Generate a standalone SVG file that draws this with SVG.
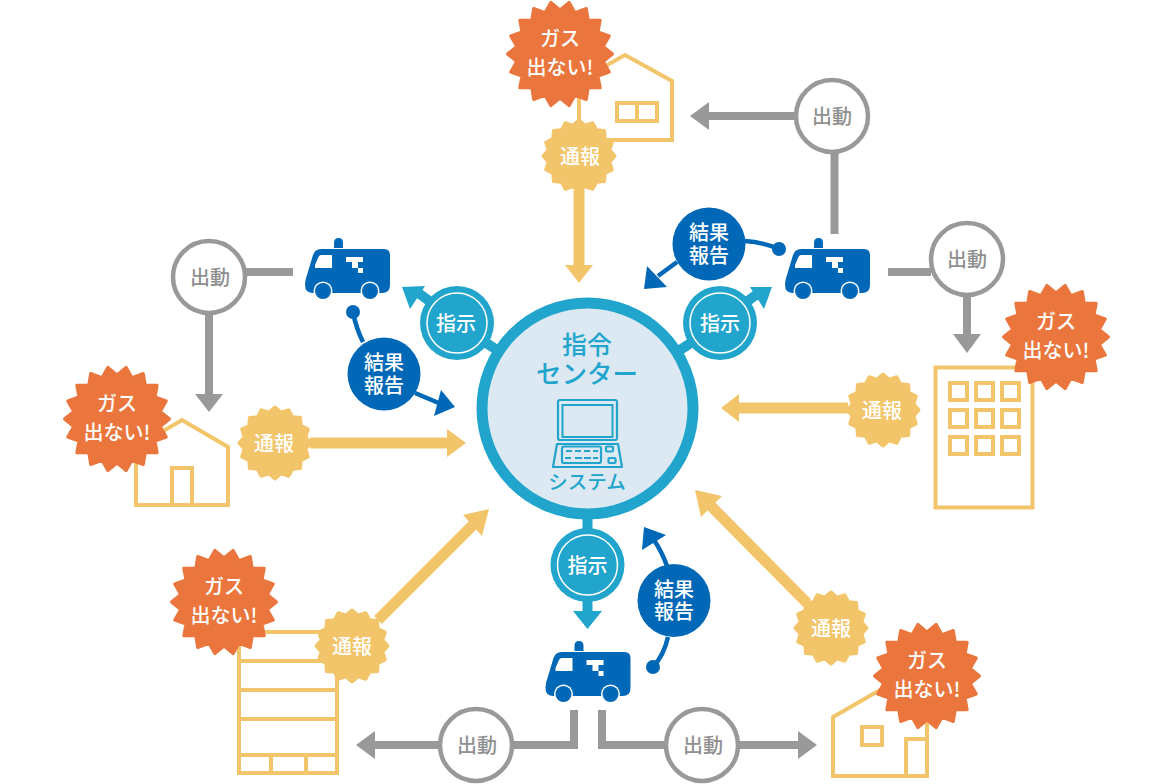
<svg xmlns="http://www.w3.org/2000/svg" width="1172" height="784" viewBox="0 0 1172 784">
<style>
text{font-family:"Noto Sans CJK JP","Noto Sans",sans-serif;text-anchor:middle;font-weight:500;font-size:20px}
.w{fill:#fff}
.g{fill:#8f8f8f}
.c{fill:#21a5cd}
.bo{fill:#ea763d;stroke:#ea763d;stroke-width:3;stroke-linejoin:round}
.by{fill:#f3c56b;stroke:#f3c56b;stroke-width:3;stroke-linejoin:round}
.bld{fill:none;stroke:#f3c56b;stroke-width:4}
.ly{fill:none;stroke:#f3c56b;stroke-width:11}
.hy{fill:#f3c56b}
.lg{fill:none;stroke:#999;stroke-width:8}
.hg{fill:#999}
.lb{fill:none;stroke:#0068b7;stroke-width:4.5}
.hb{fill:#0068b7}
.lc{fill:none;stroke:#21a5cd;stroke-width:10}
.hc{fill:#21a5cd}
.ci{fill:#21a5cd}
.ring{fill:none;stroke:#fff;stroke-width:1.5}
.rep{fill:#0068b7}
.dsp{fill:#fff;stroke:#999;stroke-width:4.5}
.ic{fill:none;stroke:#21a5cd;stroke-width:2.2;stroke-linejoin:round}
</style>
<defs>
<polygon id="bo" class="bo" points="52.5,0 43.3,7.6 49.3,18 38.1,22 40.2,33.7 28.3,33.7 26.3,45.5 15,41.3 9.1,51.7 0,44 -9.1,51.7 -15,41.3 -26.3,45.5 -28.3,33.7 -40.2,33.7 -38.1,22 -49.3,18 -43.3,7.6 -52.5,0 -43.3,-7.6 -49.3,-18 -38.1,-22 -40.2,-33.7 -28.3,-33.7 -26.3,-45.5 -15,-41.3 -9.1,-51.7 0,-44 9.1,-51.7 15,-41.3 26.3,-45.5 28.3,-33.7 40.2,-33.7 38.1,-22 49.3,-18 43.3,-7.6"/>
<polygon id="by" class="by" points="36,0 30.9,6.1 33.3,13.8 26.2,17.5 25.5,25.5 17.5,26.2 13.8,33.3 6.1,30.9 0,36 -6.1,30.9 -13.8,33.3 -17.5,26.2 -25.5,25.5 -26.2,17.5 -33.3,13.8 -30.9,6.1 -36,0 -30.9,-6.1 -33.3,-13.8 -26.2,-17.5 -25.5,-25.5 -17.5,-26.2 -13.8,-33.3 -6.1,-30.9 0,-36 6.1,-30.9 13.8,-33.3 17.5,-26.2 25.5,-25.5 26.2,-17.5 33.3,-13.8 30.9,-6.1"/>
<g id="van">
<path class="hb" d="M29,10V5q0-5 4.500-5t4.500,5V10Z"/>
<path class="hb" d="M16,11H79q6,0 6,6V47q0,8-8,8H8q-8,0-8-8q0-5 2-10L8,17q2-6 8-6Z"/>
<path class="w" d="M16,17H27V30H10V27L13,20q1-3 3-3Z"/>
<path class="w" d="M41,19H58V24H53V30H58V35H53V30H47V24H41Z"/>
<circle cx="18" cy="53" r="9.5" fill="#fff"/><circle cx="18" cy="53" r="8" class="hb"/>
<circle cx="65" cy="53" r="9.5" fill="#fff"/><circle cx="65" cy="53" r="8" class="hb"/>
</g>
</defs>

<g id="connectors">
<path class="ly" d="M579,190V266"/><polygon class="hy" points="565,265 593,265 579,283"/>
<path class="ly" d="M310,443H448"/><polygon class="hy" points="447,429 447,457 466,443"/>
<path class="ly" d="M848,408H738"/><polygon class="hy" points="739,394 739,422 721,408"/>
<path class="ly" d="M378,620L476,522"/><polygon class="hy" points="463,515 489,509 482,536"/>
<path class="ly" d="M807,603L708,503"/><polygon class="hy" points="695,490 722,496 701,517"/>
<path class="lg" d="M834.500,152V234"/>
<path class="lg" d="M795,116H708"/><polygon class="hg" points="709,102 709,130 690,116"/>
<path class="lg" d="M888,272H931"/>
<path class="lg" d="M967,295V336"/><polygon class="hg" points="953,334 981,334 967,353"/>
<path class="lg" d="M246,272H293"/>
<path class="lg" d="M209,313V395"/><polygon class="hg" points="195,394 223,394 209,412"/>
<path class="lg" d="M574,710V745H512"/>
<path class="lg" d="M440,745H374"/><polygon class="hg" points="375,731 375,759 356,745"/>
<path class="lg" d="M602,710V745H666"/>
<path class="lg" d="M738,745H799"/><polygon class="hg" points="798,731 798,759 817,745"/>
<path class="lc" d="M680,350L700,337"/>
<path class="lc" d="M745,303L760,292"/><polygon class="hc" points="772,287 750,287 764,309"/>
<path class="lc" d="M497,350L477,337"/>
<path class="lc" d="M432,303L417,292"/><polygon class="hc" points="402,287 425,286 410,309"/>
<path class="lc" d="M587.500,515V532"/>
<path class="lc" d="M587.500,600V612"/><polygon class="hc" points="573,611 602,611 587.500,629"/>
<path class="lb" d="M745,241Q762,242 779,249"/><circle class="hb" cx="779" cy="249" r="7"/>
<path class="lb" d="M677,262L658,276"/><polygon class="hb" points="644,289 647,266 667,287"/>
<path class="lb" d="M353,312Q356,328 363,342"/><circle class="hb" cx="353" cy="312" r="7"/>
<path class="lb" d="M415,393L441,404"/><polygon class="hb" points="455,407 441,390 434,416"/>
<path class="lb" d="M653,667Q664,655 668,637"/><circle class="hb" cx="653" cy="667" r="7"/>
<path class="lb" d="M667,566Q662,552 654,540"/><polygon class="hb" points="644,527 666,535 642,550"/>
</g>

<g id="center">
<circle cx="587.5" cy="408.500" r="105.500" fill="#dde9f2" stroke="#21a5cd" stroke-width="11"/>
<text class="c" x="587" y="354" style="font-size:25px">指令</text>
<text class="c" x="587" y="383" style="font-size:25.500px">センター</text>
<rect class="ic" x="558" y="400" width="59" height="40" rx="2"/>
<rect x="562.500" y="405" width="50" height="32" fill="none" stroke="#21a5cd" stroke-width="2"/>
<path class="ic" d="M557,444H618L622,467H553Z"/>
<rect class="ic" x="562" y="446.500" width="39" height="16.500" rx="2"/>
<path d="M566,451h6M575,451h6M584,451h6M593,451h5M565,458h6M575,458h7M584,458h7M593,458h5" stroke="#21a5cd" stroke-width="1.800" fill="none"/>
<rect class="ic" x="606" y="446.500" width="7" height="5" rx="1"/>
<rect class="ic" x="608.500" y="458" width="7" height="5" rx="1"/>
<text class="c" x="587" y="489" style="font-size:19.500px">システム</text>
</g>

<g id="house-top"><path class="bld" d="M579,81L625,55L672,81V140H579Z"/><path class="bld" d="M617,103H657V121H617ZM637,103V121"/></g>
<g id="house-left"><path class="bld" d="M136,447L182,420L228,447V505H136Z"/><path class="bld" d="M172,505V468H192V505"/></g>
<g id="building-lower-left"><path class="bld" d="M239,632H337V773H239ZM239,661H337M239,690H337M239,719H337M239,755H337M271,755V773M306,755V773"/></g>
<g id="house-lower-right"><path class="bld" d="M833,717L880,690L927,717V776H833Z"/><path class="bld" d="M862,727H882V745H862Z"/><path class="bld" d="M906,776V739H927"/></g>
<g id="building-right"><rect class="bld" x="935.500" y="367.500" width="97" height="140"/>
<path class="bld" d="M950,383h17v17h-17zM976,383h17v17h-17zM1002,383h17v17h-17zM950,410h17v17h-17zM976,410h17v17h-17zM1002,410h17v17h-17zM950,437h17v17h-17zM976,437h17v17h-17zM1002,437h17v17h-17z"/></g>

<g id="van-upper-left"><use href="#van" x="305" y="238"/></g>
<g id="van-upper-right"><use href="#van" x="785" y="238"/></g>
<g id="van-bottom"><use href="#van" x="545.500" y="641"/></g>

<g id="gas-top"><use href="#bo" x="560" y="54"/><text class="w" x="560" y="45.500">ガス</text><text class="w" x="560" y="74.500">出ない!</text></g>
<g id="gas-left"><use href="#bo" x="117" y="419"/><text class="w" x="117" y="410.500">ガス</text><text class="w" x="117" y="439.500">出ない!</text></g>
<g id="gas-lower-left"><use href="#bo" x="224" y="602"/><text class="w" x="224" y="593.500">ガス</text><text class="w" x="224" y="622.500">出ない!</text></g>
<g id="gas-lower-right"><use href="#bo" x="927" y="676"/><text class="w" x="927" y="667.500">ガス</text><text class="w" x="927" y="696.500">出ない!</text></g>
<g id="gas-right"><use href="#bo" x="1056" y="337"/><text class="w" x="1056" y="328.500">ガス</text><text class="w" x="1056" y="357.500">出ない!</text></g>

<g id="report-top"><use href="#by" x="579" y="156"/><text class="w" x="580" y="163.500">通報</text></g>
<g id="report-left"><use href="#by" x="275" y="443"/><text class="w" x="274" y="450.500">通報</text></g>
<g id="report-right"><use href="#by" x="883" y="410"/><text class="w" x="882" y="418">通報</text></g>
<g id="report-lower-left"><use href="#by" x="352" y="646"/><text class="w" x="352" y="653.500">通報</text></g>
<g id="report-lower-right"><use href="#by" x="831" y="628"/><text class="w" x="831" y="636">通報</text></g>

<g id="instr-left"><circle class="ci" cx="457" cy="323" r="37"/><circle class="ring" cx="457" cy="323" r="30"/><text class="w" x="456" y="330.500">指示</text></g>
<g id="instr-right"><circle class="ci" cx="720" cy="323" r="37"/><circle class="ring" cx="720" cy="323" r="30"/><text class="w" x="720" y="330.500">指示</text></g>
<g id="instr-bottom"><circle class="ci" cx="587.500" cy="565" r="37"/><circle class="ring" cx="587.500" cy="565" r="30"/><text class="w" x="587.500" y="572.500">指示</text></g>

<g id="result-right"><circle class="rep" cx="709" cy="244" r="36.500"/><text class="w" x="709" y="240">結果</text><text class="w" x="709" y="262.500">報告</text></g>
<g id="result-left"><circle class="rep" cx="384" cy="374" r="36.500"/><text class="w" x="384" y="370">結果</text><text class="w" x="384" y="392.500">報告</text></g>
<g id="result-bottom"><circle class="rep" cx="674" cy="600.500" r="36.500"/><text class="w" x="674" y="596.500">結果</text><text class="w" x="674" y="619">報告</text></g>

<g id="dispatch-1"><circle class="dsp" cx="832" cy="116" r="36"/><text class="g" x="832" y="123.500">出動</text></g>
<g id="dispatch-2"><circle class="dsp" cx="967" cy="259" r="36"/><text class="g" x="967" y="267">出動</text></g>
<g id="dispatch-3"><circle class="dsp" cx="209" cy="277" r="36"/><text class="g" x="210" y="285">出動</text></g>
<g id="dispatch-4"><circle class="dsp" cx="476" cy="745" r="36"/><text class="g" x="477" y="753">出動</text></g>
<g id="dispatch-5"><circle class="dsp" cx="702" cy="745" r="36"/><text class="g" x="703" y="753">出動</text></g>
</svg>
